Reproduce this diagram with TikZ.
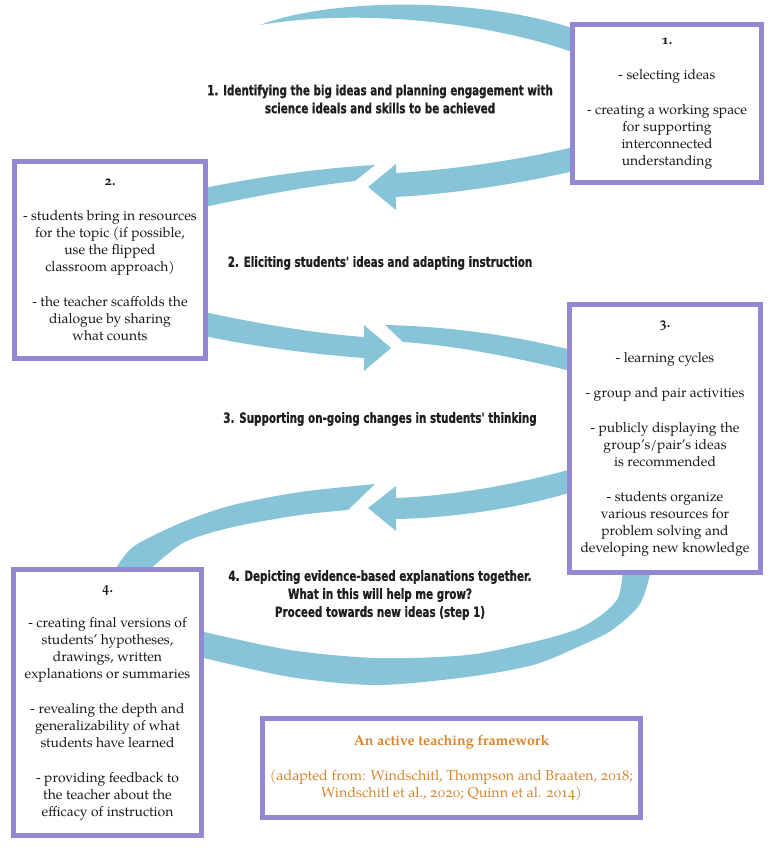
\documentclass[tikz,border=0pt]{standalone}
\usepackage{fontspec}
\setmainfont{texgyrepagella}[Extension=.otf, UprightFont=*-regular, BoldFont=*-bold, ItalicFont=*-italic, BoldItalicFont=*-bolditalic, Numbers=OldStyle]
\newfontfamily\labelfont{DejaVu Sans}[FakeStretch=0.74, FakeBold=1]
\usepackage{xcolor}
\usepackage{tikz}
\usetikzlibrary{shadows}
\definecolor{bandblue}{RGB}{135,196,216}
\definecolor{boxline}{RGB}{146,136,212}
\definecolor{legendtext}{RGB}{214,133,45}
\tikzstyle{stepbox} = [rectangle, draw=boxline, line width=3.75pt, fill=white, align=center, inner sep=0pt, text=black!90, font=\fontsize{10.4}{12.75}\selectfont, drop shadow={shadow xshift=1.2pt, shadow yshift=-1.8pt, opacity=0.3, fill=black}]
\tikzstyle{steplabel} = [align=center, inner sep=0pt, text=black!88, font=\labelfont\bfseries\fontsize{10.5}{13.5}\selectfont]
\tikzstyle{band} = [fill=bandblue]
\newcommand{\gap}{\\[13.5pt]}

\begin{document}
\begin{tikzpicture}[x=0.75pt, y=-0.75pt]
	\useasboundingbox (0,0) rectangle (773,850);
	
	% cycle bands
	\fill[band] (260,25) .. controls (330,-2) and (480,-4) .. (578,30) -- (578,54) .. controls (490,22) and (360,8) .. (260,25) -- cycle;
	\fill[band] (578,146) .. controls (520,160) and (450,170) .. (396,173) -- (396,164) -- (368,187) -- (396,210) -- (396,197) .. controls (450,194) and (520,184) .. (578,170) -- cycle;
	\fill[band] (375,165) .. controls (320,168) and (250,178) .. (200,189) -- (200,208) .. controls (250,197) and (310,186) .. (355,181) -- cycle;
	\fill[band] (200,311) .. controls (250,322) and (310,333) .. (364,337) -- (364,325) -- (391,348) -- (364,371) -- (364,358) .. controls (310,354) and (250,346) .. (200,335) -- cycle;
	\fill[band] (385,325) .. controls (440,326) and (510,334) .. (575,351) -- (575,372) .. controls (510,356) and (450,345) .. (403,342) -- cycle;
	\fill[band] (575,468) .. controls (520,484) and (450,496) .. (396,498) -- (396,486) -- (368,508) -- (396,531) -- (396,519) .. controls (455,518) and (525,507) .. (575,491) -- cycle;
	\fill[band] plot[smooth] coordinates {(375,484) (300,492) (233,505) (183,522) (133,547) (112,575)} -- plot[smooth] coordinates {(144,575) (183,543) (233,527) (300,515) (348,510)} -- cycle;
	\fill[band] plot[smooth] coordinates {(200,631) (290,650) (377,658) (467,655) (533,642) (575,630) (600,616) (618,598) (623,570)} -- plot[smooth] coordinates {(651,570) (640,604) (612,630) (580,646) (533,665) (467,677) (377,685) (290,677) (200,657)} -- cycle;
	
	% step boxes
	\node (box1) [stepbox, minimum width=141.75pt, minimum height=118.5pt] at (667,103.5) {\textbf{1.}\gap - selecting ideas\gap - creating a working space\\for supporting\\interconnected\\understanding};
	\node (box2) [stepbox, minimum width=143.25pt, minimum height=147.75pt] at (110,260) {\textbf{2.}\gap - students bring in resources\\for the topic (if possible,\\use the flipped\\classroom approach)\gap - the teacher scaffolds the\\dialogue by sharing\\what counts};
	\node (box3) [stepbox, minimum width=143.25pt, minimum height=201pt] at (665,438.5) {\textbf{3.}\gap - learning cycles\gap - group and pair activities\gap - publicly displaying the\\group's/pair's ideas\\is recommended\gap - students organize\\various resources for\\problem solving and\\developing new knowledge};
	\node (box4) [stepbox, minimum width=141pt, minimum height=199.5pt] at (107.5,702.5) {\textbf{4.}\gap - creating final versions of\\students' hypotheses,\\drawings, written\\explanations or summaries\gap - revealing the depth and\\generalizability of what\\students have learned\gap - providing feedback to\\the teacher about the\\efficacy of instruction};
	\node (legend) [stepbox, text=legendtext, font=\fontsize{10.7}{13}\selectfont, minimum width=283.5pt, minimum height=74.25pt] at (451.5,768) {\textbf{An active teaching framework}\gap (adapted from: Windschitl, Thompson and Braaten, 2018;\\Windschitl et al., 2020; Quinn et al. 2014)};
	
	% step labels
	\node (step1) [steplabel] at (380,99) {1. Identifying the big ideas and planning engagement with\\science ideals and skills to be achieved};
	\node (step2) [steplabel] at (380,263) {2. Eliciting students' ideas and adapting instruction};
	\node (step3) [steplabel] at (380,419) {3. Supporting on-going changes in students' thinking};
	\node (step4) [steplabel] at (380,595) {4. Depicting evidence-based explanations together.\\What in this will help me grow?\\Proceed towards new ideas (step 1)};
\end{tikzpicture}
\end{document}
